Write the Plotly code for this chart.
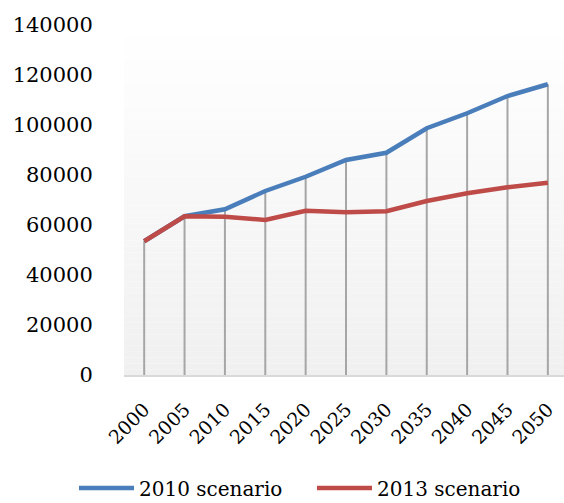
import plotly.graph_objects as go

years = ["2000", "2005", "2010", "2015", "2020", "2025", "2030", "2035", "2040", "2045", "2050"]
scenario_2010 = [53500, 63500, 66300, 73600, 79300, 86000, 88900, 98700, 104700, 111600, 116300]
scenario_2013 = [53500, 63500, 63300, 62000, 65700, 65100, 65500, 69600, 72700, 75100, 76900]
y_ticks = [0, 20000, 40000, 60000, 80000, 100000, 120000, 140000]

x = list(range(len(years)))
FONT = "DejaVu Serif"

fig = go.Figure()

# drop lines from each category's top value down to the axis
drop_x, drop_y = [], []
for i, (a, b) in enumerate(zip(scenario_2010, scenario_2013)):
    drop_x += [i, i, None]
    drop_y += [0, max(a, b), None]
fig.add_trace(go.Scatter(x=drop_x, y=drop_y, mode="lines",
                         line=dict(color="#a6a6a6", width=2),
                         hoverinfo="skip", showlegend=False))

fig.add_trace(go.Scatter(x=x, y=scenario_2010, mode="lines", name="2010 scenario",
                         line=dict(color="#4a7ebb", width=4.5)))
fig.add_trace(go.Scatter(x=x, y=scenario_2013, mode="lines", name="2013 scenario",
                         line=dict(color="#be4b48", width=4.5)))

# vertical gradient in the plot area: white at top, light grey at bottom
n = 60
shapes = []
for k in range(n):
    t = k / (n - 1)
    g = int(round(255 - (255 - 240) * (1 - t)))
    shapes.append(dict(type="rect", xref="x domain", yref="y domain",
                       x0=0, x1=1, y0=k / n, y1=(k + 1) / n,
                       fillcolor=f"rgb({g},{g},{g})", line=dict(width=0),
                       layer="below"))

fig.update_layout(
    width=564, height=503,
    margin=dict(l=124, r=0, t=25, b=128, autoexpand=False),
    paper_bgcolor="white", plot_bgcolor="white",
    font=dict(family=FONT, size=20, color="black"),
    shapes=shapes,
    showlegend=True,
    legend=dict(orientation="h", x=-50 / 440, xref="paper", y=-113 / 350, yref="paper",
                yanchor="middle", xanchor="left", font=dict(size=20),
                entrywidth=168, itemwidth=55, bgcolor="rgba(0,0,0,0)",
                traceorder="normal"),
    xaxis=dict(range=[-0.5, 10.4], tickmode="array", tickvals=x, ticktext=years,
               tickangle=-45, showgrid=False, zeroline=False, automargin=False,
               showline=True, linecolor="#d9d9d9", linewidth=2,
               ticks="outside", ticklen=14, tickcolor="rgba(0,0,0,0)",
               tickfont=dict(family=FONT, size=19)),
    yaxis=dict(range=[0, 140000], tickmode="array", tickvals=y_ticks, automargin=False,
               ticktext=[str(v) for v in y_ticks], showgrid=False, zeroline=False,
               showline=False, ticks="outside", ticklen=26,
               tickcolor="rgba(0,0,0,0)", tickfont=dict(family=FONT, size=21)),
)

fig.write_html("out.html")
